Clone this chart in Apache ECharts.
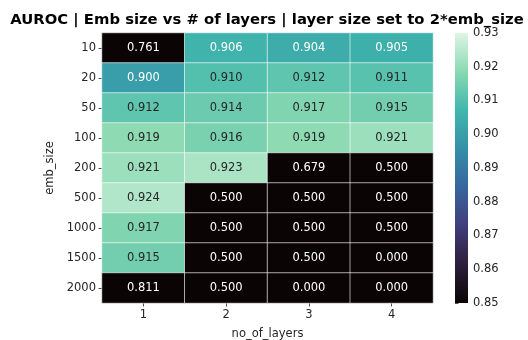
<!DOCTYPE html>
<html>
<head>
<meta charset="utf-8">
<script src="https://cdn.jsdelivr.net/npm/echarts@6/dist/echarts.min.js"></script>
<style>
  html, body { margin: 0; padding: 0; background: #fff; }
  #chart { width: 528px; height: 340px; }
</style>
</head>
<body>
<div id="chart"></div>
<script>
// Grid of AUROC scores: rows = embedding size, columns = number of layers
const layerCounts = ['1', '2', '3', '4'];
const embSizes = ['10', '20', '50', '100', '200', '500', '1000', '1500', '2000'];
const aurocByEmb = [
  [0.761, 0.906, 0.904, 0.905],
  [0.900, 0.910, 0.912, 0.911],
  [0.912, 0.914, 0.917, 0.915],
  [0.919, 0.916, 0.919, 0.921],
  [0.921, 0.923, 0.679, 0.500],
  [0.924, 0.500, 0.500, 0.500],
  [0.917, 0.500, 0.500, 0.500],
  [0.915, 0.500, 0.500, 0.000],
  [0.811, 0.500, 0.000, 0.000]
];
const colorTicks = [0.85, 0.86, 0.87, 0.88, 0.89, 0.90, 0.91, 0.92, 0.93];

// "mako" style ramp, evenly spaced stops
const makoStops = ['#0B0405', '#2E1E3B', '#413D7B', '#37659E', '#348FA7', '#40B7AD', '#8AD9B1', '#DEF5E5'];

const FONT = 'DejaVu Sans';
const TXT = '#262626';

const cells = [];
aurocByEmb.forEach((row, r) => {
  row.forEach((v, c) => {
    cells.push({
      value: [c, r, v],
      label: { color: v >= 0.908 ? TXT : '#ffffff' }
    });
  });
});

// Colour bar geometry (right of the heatmap)
const BAR = { left: 455, top: 33, width: 13, height: 270 };

const chart = echarts.init(document.getElementById('chart'), null, { renderer: 'canvas' });
chart.setOption({
  animation: false,
  backgroundColor: '#ffffff',
  title: {
    text: 'AUROC | Emb size vs # of layers | layer size set to 2*emb_size',
    left: 262, top: 8, textAlign: 'center',
    textStyle: { fontFamily: FONT, fontSize: 14.8, fontWeight: 'bold', color: '#000' }
  },
  grid: [
    { left: 102, top: 33, width: 331, height: 270, outerBoundsMode: 'none', containLabel: false },
    { left: BAR.left, top: BAR.top, width: BAR.width, height: BAR.height, outerBoundsMode: 'none', containLabel: false }
  ],
  xAxis: [
    {
      type: 'category', data: layerCounts, gridIndex: 0,
      name: 'no_of_layers', nameLocation: 'middle', nameGap: 25,
      nameTextStyle: { fontFamily: FONT, fontSize: 11.5, color: TXT },
      axisLine: { show: false },
      axisTick: { show: true, alignWithLabel: true, length: 3.5, lineStyle: { color: TXT, width: 0.8 } },
      axisLabel: { fontFamily: FONT, fontSize: 11.5, color: TXT, margin: 6 },
      splitLine: { show: false }
    },
    { type: 'value', gridIndex: 1, show: false, min: 0, max: 1 }
  ],
  yAxis: [
    {
      type: 'category', data: embSizes, gridIndex: 0, inverse: true,
      name: 'emb_size', nameLocation: 'middle', nameGap: 46, nameRotate: 90,
      nameTextStyle: { fontFamily: FONT, fontSize: 11.5, color: TXT },
      axisLine: { show: false },
      axisTick: { show: true, alignWithLabel: true, length: 3.5, lineStyle: { color: TXT, width: 0.8 } },
      axisLabel: { fontFamily: FONT, fontSize: 11.5, color: TXT, margin: 6 },
      splitLine: { show: false }
    },
    {
      type: 'value', gridIndex: 1, position: 'right',
      min: colorTicks[0], max: colorTicks[colorTicks.length - 1], interval: 0.01,
      axisLine: { show: false },
      axisTick: { show: true, length: 3.5, lineStyle: { color: TXT, width: 0.8 } },
      axisLabel: {
        fontFamily: FONT, fontSize: 11.5, color: TXT, margin: 5,
        formatter: v => v.toFixed(2)
      },
      splitLine: { show: false }
    }
  ],
  visualMap: [
    {
      type: 'continuous', seriesIndex: 0, dimension: 2, show: false,
      min: colorTicks[0], max: colorTicks[colorTicks.length - 1],
      inRange: { color: makoStops },
      outOfRange: { color: '#0B0405' }
    }
  ],
  graphic: [
    {
      type: 'rect', z: 1,
      shape: { x: BAR.left, y: BAR.top, width: BAR.width, height: BAR.height },
      style: {
        fill: new echarts.graphic.LinearGradient(0, 1, 0, 0,
          makoStops.map((c, i) => ({ offset: i / (makoStops.length - 1), color: c })))
      }
    }
  ],
  series: [
    {
      type: 'heatmap', xAxisIndex: 0, yAxisIndex: 0,
      data: cells,
      itemStyle: { borderColor: 'rgba(255,255,255,0.6)', borderWidth: 1 },
      label: {
        show: true, fontFamily: FONT, fontSize: 11.5,
        formatter: p => p.value[2].toFixed(3)
      },
      emphasis: { disabled: true }
    }
  ]
});
</script>
</body>
</html>
